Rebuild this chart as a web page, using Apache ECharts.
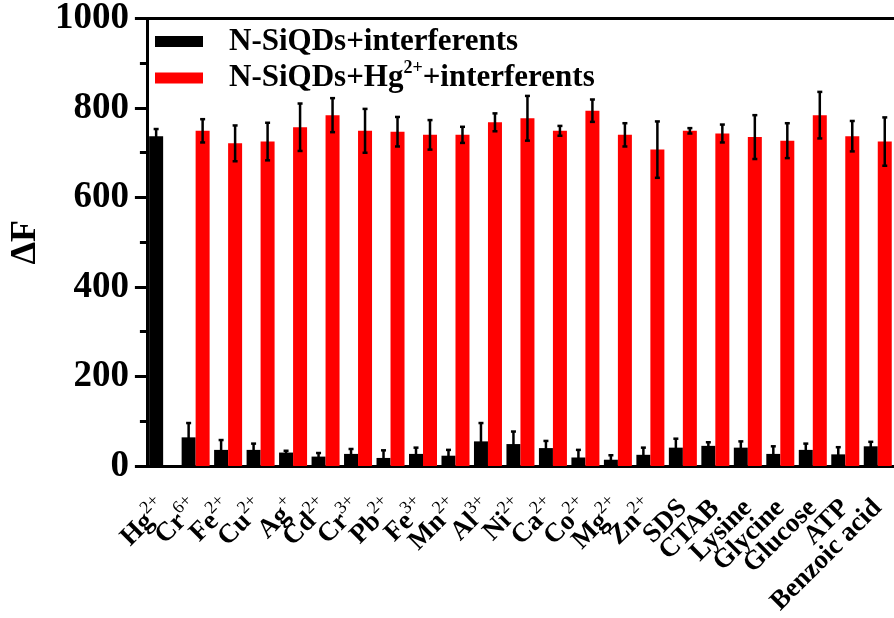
<!DOCTYPE html>
<html>
<head>
<meta charset="utf-8">
<script src="https://cdn.jsdelivr.net/npm/echarts@6/dist/echarts.min.js"></script>
<style>html,body{margin:0;padding:0;background:#fff;}#chart{width:894px;height:618px;}</style>
</head>
<body>
<div id="chart"></div>
<script>
const categories = ['Hg2+','Cr6+','Fe2+','Cu2+','Ag+','Cd2+','Cr3+','Pb2+','Fe3+','Mn2+','Al3+','Ni2+','Ca2+','Co2+','Mg2+','Zn2+','SDS','CTAB','Lysine','Glycine','Glucose','ATP','Benzoic acid'];
const blackVals = [737,64,36,36,30,21,27,18,27,23,55,49,40,19,14,25,41,45,41,27,36,26,44];
const blackErr  = [16,32,22,14,4,8,11,17,14,13,41,28,16,17,10,16,20,8,14,17,14,16,10];
const redVals   = [null,749,721,725,757,784,749,747,740,740,768,777,749,794,740,707,749,743,735,727,784,737,725];
const redErr    = [null,26,40,42,53,38,49,33,33,18,20,50,11,25,26,63,6,20,49,39,52,34,54];
const yTicks = [0,200,400,600,800,1000];
const seriesNames = ['N-SiQDs+interferents','N-SiQDs+Hg2++interferents'];

const FONT = "'Liberation Serif','Times New Roman',serif";
const BAR_W = 14;

function errItems(vals, errs){
  return vals.map((v,i)=> v==null ? [i,null,null] : [i,v,errs[i]]);
}
function makeErrRender(offset){
  return function(params, api){
    const v = api.value(1), e = api.value(2);
    if (v == null || isNaN(v)) return;
    const i = api.value(0);
    const x = api.coord([i, v])[0] + offset;
    const yt = api.coord([i, v + e])[1];
    const yb = api.coord([i, v - e])[1];
    const cw = 2.5;
    const st = {stroke:'#000', lineWidth:2.5};
    return {type:'group', children:[
      {type:'line', shape:{x1:x,y1:yt,x2:x,y2:yb}, style:st},
      {type:'line', shape:{x1:x-cw,y1:yt,x2:x+cw,y2:yt}, style:st},
      {type:'line', shape:{x1:x-cw,y1:yb,x2:x+cw,y2:yb}, style:st}
    ]};
  };
}

const chart = echarts.init(document.getElementById('chart'), null, {renderer:'canvas'});
chart.setOption({
  animation:false,
  backgroundColor:'#fff',
  textStyle:{fontFamily:FONT},
  grid:{left:146, right:-5, top:18, bottom:150, containLabel:false},
  legend:{
    orient:'vertical', left:150, top:21, itemWidth:48, itemHeight:11, itemGap:2,
    icon:'rect',
    data:seriesNames,
    formatter:function(n){ return n===seriesNames[1] ? '{a|N-SiQDs+Hg}{s|2+}{a|+interferents}' : '{a|'+n+'}'; },
    textStyle:{fontFamily:FONT, fontWeight:'bold', fontSize:31, color:'#000', padding:[0,0,0,21],
      rich:{a:{fontFamily:FONT, fontWeight:'bold', fontSize:31, lineHeight:34, color:'#000'},
            s:{fontFamily:FONT, fontWeight:'bold', fontSize:18, color:'#000', padding:[0,0,20,0]}}}
  },
  xAxis:[{
    type:'category', data:categories, position:'bottom',
    axisLine:{lineStyle:{color:'#000', width:3}},
    axisTick:{alignWithLabel:true, length:10, lineStyle:{color:'#000', width:3}},
    axisLabel:{rotate:45, margin:38, interval:0, color:'#000',
      formatter:function(c){
        const m = c.match(/^([A-Za-z]+)(\d?\+)$/);
        return m ? '{a|'+m[1]+'}{s|'+m[2]+'}' : '{a|'+c+'}';
      },
      rich:{a:{fontFamily:FONT, fontWeight:'bold', fontSize:27, color:'#000'},
            s:{fontFamily:FONT, fontWeight:'normal', fontSize:18, color:'#000', padding:[0,0,18,0]}}}
  },{
    type:'category', data:categories, position:'top',
    axisLine:{lineStyle:{color:'#000', width:3}},
    axisTick:{show:false}, axisLabel:{show:false}
  }],
  yAxis:{
    type:'value', min:yTicks[0], max:yTicks[yTicks.length-1], interval:200,
    name:'ΔF', nameLocation:'middle', nameGap:100,
    nameTextStyle:{fontFamily:FONT, fontWeight:'bold', fontSize:36, color:'#000'},
    axisLine:{show:true, lineStyle:{color:'#000', width:3}},
    axisTick:{show:true, length:12, lineStyle:{color:'#000', width:3}},
    minorTick:{show:true, splitNumber:2, length:7, lineStyle:{color:'#000', width:3}},
    splitLine:{show:false},
    axisLabel:{margin:18, color:'#000', fontFamily:FONT, fontWeight:'bold', fontSize:37,
      formatter:function(v){ return String(v); }}
  },
  series:[
    {name:seriesNames[0], type:'bar', data:blackVals, barWidth:BAR_W, barGap:'0%', itemStyle:{color:'#000'}},
    {name:seriesNames[1], type:'bar', data:redVals, barWidth:BAR_W, barGap:'0%', itemStyle:{color:'#ff0000'}},
    {type:'custom', data:errItems(blackVals, blackErr), renderItem:makeErrRender(-BAR_W/2), z:5, encode:{x:0,y:1}},
    {type:'custom', data:errItems(redVals, redErr), renderItem:makeErrRender(BAR_W/2), z:5, encode:{x:0,y:1}}
  ]
});
</script>
</body>
</html>
